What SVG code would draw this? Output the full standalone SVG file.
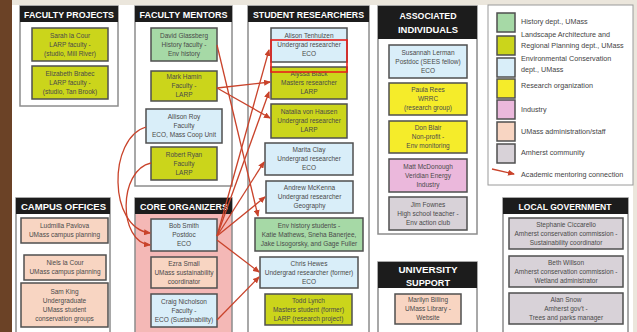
<svg xmlns="http://www.w3.org/2000/svg" width="637" height="332" viewBox="0 0 637 332">
<style>
.pn{fill:#ffffff;stroke:#8c8c8c;stroke-width:1.5}
.hd{fill:#1c1c1c}
.ht{fill:#ffffff;font-family:"Liberation Sans",Arial,sans-serif;font-size:9.5px;font-weight:bold;text-anchor:middle}
.bx{stroke:#4f4f4f;stroke-width:1.5}
.t{fill:#4a4a4a;font-family:"Liberation Sans",Arial,sans-serif;font-size:6.5px;text-anchor:middle}
.lt{fill:#444;font-family:"Liberation Sans",Arial,sans-serif;font-size:7.2px}
.his{fill:#a6d9a6}.lar{fill:#cbd51b}.env{fill:#d9eef9}.res{fill:#f5ec2a}.ind{fill:#ebb8dc}.adm{fill:#f8d5c2}.amh{fill:#d8d2d8}
.cn{fill:none;stroke:#c9432b;stroke-width:1.3;marker-end:url(#ah)}
</style>
<defs>
<marker id="ah" markerWidth="7" markerHeight="6" refX="6" refY="3" orient="auto" markerUnits="userSpaceOnUse"><path d="M0,0 L7,3 L0,6 z" fill="#c9432b"/></marker>
</defs>
<rect x="0" y="0" width="637" height="332" fill="#ffffff"/>
<rect x="0" y="0" width="637" height="5" fill="#ebe6dc"/>
<rect x="633" y="0" width="4" height="332" fill="#ebe6dc"/>
<rect x="0" y="0" width="12" height="332" fill="#6b4226"/>

<!-- Panels -->
<g id="panel-faculty-projects">
<rect class="pn" x="20" y="6" width="98" height="100"/>
<rect class="hd" x="20" y="6" width="98" height="16"/>
<text class="ht" x="69" y="18" textLength="90" lengthAdjust="spacingAndGlyphs">FACULTY PROJECTS</text>
</g>
<g id="panel-faculty-mentors">
<rect class="pn" x="135" y="6" width="97" height="180"/>
<rect class="hd" x="135" y="6" width="97" height="16"/>
<text class="ht" x="183.5" y="18" textLength="88" lengthAdjust="spacingAndGlyphs">FACULTY MENTORS</text>
</g>
<g id="panel-student-researchers">
<rect class="pn" x="248" y="6" width="121" height="330"/>
<rect class="hd" x="248" y="6" width="121" height="16"/>
<text class="ht" x="308.5" y="18" textLength="111" lengthAdjust="spacingAndGlyphs">STUDENT RESEARCHERS</text>
</g>
<g id="panel-associated">
<rect class="pn" x="378" y="6" width="99" height="228"/>
<rect class="hd" x="378" y="6" width="99" height="33"/>
<text class="ht" x="428" y="19" textLength="57" lengthAdjust="spacingAndGlyphs">ASSOCIATED</text>
<text class="ht" x="428" y="33" textLength="60" lengthAdjust="spacingAndGlyphs">INDIVIDUALS</text>
</g>
<g id="panel-university-support">
<rect class="pn" x="378" y="262" width="99" height="74"/>
<rect class="hd" x="378" y="262" width="99" height="26"/>
<text class="ht" x="428" y="273" textLength="59" lengthAdjust="spacingAndGlyphs">UNIVERSITY</text>
<text class="ht" x="428" y="286" textLength="44" lengthAdjust="spacingAndGlyphs">SUPPORT</text>
</g>
<g id="panel-campus-offices">
<rect class="pn" x="16" y="198" width="94" height="138"/>
<rect class="hd" x="16" y="198" width="94" height="16"/>
<text class="ht" x="63.5" y="210" textLength="85" lengthAdjust="spacingAndGlyphs">CAMPUS OFFICES</text>
</g>
<g id="panel-core-organizers">
<rect class="pn" x="135" y="198" width="97" height="138" style="fill:#f4b8b6"/>
<rect class="hd" x="135" y="198" width="97" height="16"/>
<text class="ht" x="184" y="210" textLength="88" lengthAdjust="spacingAndGlyphs">CORE ORGANIZERS</text>
</g>
<g id="panel-local-government">
<rect class="pn" x="503" y="198" width="125" height="138"/>
<rect class="hd" x="503" y="198" width="125" height="16"/>
<text class="ht" x="565" y="210" textLength="93" lengthAdjust="spacingAndGlyphs">LOCAL GOVERNMENT</text>
</g>

<!-- Faculty projects -->
<g id="sarah-la-cour"><rect class="bx lar" x="32" y="28" width="76" height="33"/>
<text class="t" x="70" y="37.8">Sarah la Cour</text><text class="t" x="70" y="46.8">LARP faculty -</text><text class="t" x="70" y="55.8">(studio, Mill River)</text></g>
<g id="elizabeth-brabec"><rect class="bx lar" x="32" y="66" width="76" height="33"/>
<text class="t" x="70" y="75.8">Elizabeth Brabec</text><text class="t" x="70" y="84.8">LARP faculty -</text><text class="t" x="70" y="93.8">(studio, Tan Brook)</text></g>

<!-- Faculty mentors -->
<g id="david-glassberg"><rect class="bx his" x="151" y="28" width="66" height="33"/>
<text class="t" x="184" y="37.8">David Glassberg</text><text class="t" x="184" y="46.8">History faculty -</text><text class="t" x="184" y="55.8">Env history</text></g>
<g id="mark-hamin"><rect class="bx lar" x="151" y="71" width="66" height="30"/>
<text class="t" x="184" y="79.3">Mark Hamin</text><text class="t" x="184" y="88.3">Faculty -</text><text class="t" x="184" y="97.3">LARP</text></g>
<g id="allison-roy"><rect class="bx env" x="146" y="109" width="76" height="34"/>
<text class="t" x="184" y="119.3">Allison Roy</text><text class="t" x="184" y="128.3">Faculty</text><text class="t" x="184" y="137.3">ECO, Mass Coop Unit</text></g>
<g id="robert-ryan"><rect class="bx lar" x="151" y="147" width="66" height="33"/>
<text class="t" x="184" y="156.8">Robert Ryan</text><text class="t" x="184" y="165.8">Faculty</text><text class="t" x="184" y="174.8">LARP</text></g>

<!-- Core organizers -->
<g id="bob-smith"><rect class="bx env" x="151" y="219" width="66" height="32"/>
<text class="t" x="184" y="228.3">Bob Smith</text><text class="t" x="184" y="237.3">Postdoc</text><text class="t" x="184" y="246.3">ECO</text></g>
<g id="ezra-small"><rect class="bx adm" x="151" y="257" width="66" height="31"/>
<text class="t" x="184" y="265.8">Ezra Small</text><text class="t" x="184" y="274.8">UMass sustainability</text><text class="t" x="184" y="283.8">coordinator</text></g>
<g id="craig-nicholson"><rect class="bx env" x="151" y="294" width="66" height="33"/>
<text class="t" x="184" y="303.8">Craig Nicholson</text><text class="t" x="184" y="312.8">Faculty -</text><text class="t" x="184" y="321.8">ECO (Sustainability)</text></g>

<!-- Student researchers -->
<g id="alison-tenhulzen"><rect class="bx env" x="271" y="28" width="76" height="34"/>
<text class="t" x="309" y="38.3">Alison Tenhulzen</text><text class="t" x="309" y="47.3">Undergrad researcher</text><text class="t" x="309" y="56.3">ECO</text></g>
<g id="alyssa-black"><rect class="bx lar" x="271" y="67" width="76" height="32"/>
<text class="t" x="309" y="76.3">Alyssa Black</text><text class="t" x="309" y="85.3">Masters researcher</text><text class="t" x="309" y="94.3">LARP</text></g>
<g id="highlight"><rect x="271" y="40" width="76" height="32" fill="none" stroke="#e8201c" stroke-width="1.6"/></g>
<g id="natalia-von-hausen"><rect class="bx lar" x="271" y="104" width="76" height="34"/>
<text class="t" x="309" y="114.3">Natalia von Hausen</text><text class="t" x="309" y="123.3">Undergrad researcher</text><text class="t" x="309" y="132.3">LARP</text></g>
<g id="marita-clay"><rect class="bx env" x="265" y="143" width="88" height="32"/>
<text class="t" x="309" y="152.3">Marita Clay</text><text class="t" x="309" y="161.3">Undergrad researcher</text><text class="t" x="309" y="170.3">ECO</text></g>
<g id="andrew-mckenna"><rect class="bx env" x="266" y="181" width="87" height="32"/>
<text class="t" x="309.5" y="190.3">Andrew McKenna</text><text class="t" x="309.5" y="199.3">Undergrad researcher</text><text class="t" x="309.5" y="208.3">Geography</text></g>
<g id="env-history-students"><rect class="bx his" x="255" y="218" width="108" height="33"/>
<text class="t" x="309" y="227.8">Env history students -</text><text class="t" x="309" y="236.8">Katie Mathews, Sneha Banerjee,</text><text class="t" x="309" y="245.8">Jake Lisogorsky, and Gage Fuller</text></g>
<g id="chris-hewes"><rect class="bx env" x="260" y="257" width="98" height="31"/>
<text class="t" x="309" y="265.8">Chris Hewes</text><text class="t" x="309" y="274.8">Undergrad researcher (former)</text><text class="t" x="309" y="283.8">ECO</text></g>
<g id="todd-lynch"><rect class="bx lar" x="265" y="294" width="87" height="31"/>
<text class="t" x="308.5" y="302.8">Todd Lynch</text><text class="t" x="308.5" y="311.8">Masters student (former)</text><text class="t" x="308.5" y="320.8">LARP (research project)</text></g>

<!-- Associated individuals -->
<g id="susannah-lerman"><rect class="bx env" x="389" y="45" width="78" height="33"/>
<text class="t" x="428" y="54.8">Susannah Lerman</text><text class="t" x="428" y="63.8">Postdoc (SEES fellow)</text><text class="t" x="428" y="72.8">ECO</text></g>
<g id="paula-rees"><rect class="bx res" x="389" y="83" width="78" height="32"/>
<text class="t" x="428" y="92.3">Paula Rees</text><text class="t" x="428" y="101.3">WRRC</text><text class="t" x="428" y="110.3">(research group)</text></g>
<g id="don-blair"><rect class="bx res" x="389" y="121" width="78" height="32"/>
<text class="t" x="428" y="130.3">Don Blair</text><text class="t" x="428" y="139.3">Non-profit -</text><text class="t" x="428" y="148.3">Env monitoring</text></g>
<g id="matt-mcdonough"><rect class="bx ind" x="389" y="159" width="78" height="33"/>
<text class="t" x="428" y="168.8">Matt McDonough</text><text class="t" x="428" y="177.8">Veridian Energy</text><text class="t" x="428" y="186.8">Industry</text></g>
<g id="jim-fownes"><rect class="bx amh" x="389" y="197" width="78" height="33"/>
<text class="t" x="428" y="206.8">Jim Fownes</text><text class="t" x="428" y="215.8">High school teacher -</text><text class="t" x="428" y="224.8">Env action club</text></g>

<!-- University support -->
<g id="marilyn-billing"><rect class="bx adm" x="395" y="294" width="66" height="30"/>
<text class="t" x="428" y="302.3">Marilyn Billing</text><text class="t" x="428" y="311.3">UMass Library -</text><text class="t" x="428" y="320.3">Website</text></g>

<!-- Campus offices -->
<g id="ludmilla-pavlova"><rect class="bx adm" x="21" y="218" width="87" height="25"/>
<text class="t" x="64.5" y="228.3">Ludmilla Pavlova</text><text class="t" x="64.5" y="237.3">UMass campus planning</text></g>
<g id="niels-la-cour"><rect class="bx adm" x="24" y="255" width="82" height="25"/>
<text class="t" x="65" y="265.3">Niels la Cour</text><text class="t" x="65" y="274.3">UMass campus planning</text></g>
<g id="sam-king"><rect class="bx adm" x="21" y="283" width="87" height="44"/>
<text class="t" x="64.5" y="293.8">Sam King</text><text class="t" x="64.5" y="302.8">Undergraduate</text><text class="t" x="64.5" y="311.8">UMass student</text><text class="t" x="64.5" y="320.8">conservation groups</text></g>

<!-- Local government -->
<g id="stephanie-ciccarello"><rect class="bx amh" x="509" y="218" width="114" height="31"/>
<text class="t" x="566" y="226.8">Stephanie Ciccarello</text><text class="t" x="566" y="235.8">Amherst conservation commission -</text><text class="t" x="566" y="244.8">Sustainability coordinator</text></g>
<g id="beth-willson"><rect class="bx amh" x="509" y="256" width="114" height="31"/>
<text class="t" x="566" y="264.8">Beth Willson</text><text class="t" x="566" y="273.8">Amherst conservation commission -</text><text class="t" x="566" y="282.8">Wetland administrator</text></g>
<g id="alan-snow"><rect class="bx amh" x="509" y="293" width="114" height="31"/>
<text class="t" x="566" y="301.8">Alan Snow</text><text class="t" x="566" y="310.8">Amherst gov't -</text><text class="t" x="566" y="319.8">Trees and parks manager</text></g>

<!-- Legend -->
<g id="legend">
<rect x="488" y="5" width="145" height="180" fill="#ffffff" stroke="#9a9a9a" stroke-width="1"/>
<rect class="bx his" x="497" y="13" width="18" height="19"/><text class="lt" x="521" y="24">History dept., UMass</text>
<rect class="bx lar" x="497" y="36" width="18" height="19"/><text class="lt" x="521" y="36.5">Landscape Architecture and</text><text class="lt" x="521" y="47.5">Regional Planning dept., UMass</text>
<rect class="bx env" x="497" y="58" width="18" height="19"/><text class="lt" x="521" y="60.5">Environmental Conservation</text><text class="lt" x="521" y="71.5">dept., UMass</text>
<rect class="bx res" x="497" y="79" width="18" height="19"/><text class="lt" x="521" y="87.5">Research organization</text>
<rect class="bx ind" x="497" y="100" width="18" height="19"/><text class="lt" x="521" y="111.5">Industry</text>
<rect class="bx adm" x="497" y="122" width="18" height="19"/><text class="lt" x="521" y="133.5">UMass administration/staff</text>
<rect class="bx amh" x="497" y="144" width="18" height="19"/><text class="lt" x="521" y="154.5">Amherst community</text>
<path class="cn" d="M492,169 L514,174"/><text class="lt" x="521" y="176.5">Academic mentoring connection</text>
</g>

<!-- Connectors -->
<g id="connectors">
<path class="cn" d="M217,45 L258,216"/>
<path class="cn" d="M217,88 L270,82"/>
<path class="cn" d="M217,88 L270,118"/>
<path class="cn" d="M217,236 L269,50"/>
<path class="cn" d="M217,236 L269,92"/>
<path class="cn" d="M217,236 L264,162"/>
<path class="cn" d="M217,236 L265,197"/>
<path class="cn" d="M217,240 L259,272"/>
<path class="cn" d="M217,320 L259,277"/>
<path class="cn" d="M146,127 C108,138 108,228 150,233"/>
<path class="cn" d="M151,163 C118,170 118,242 150,245"/>
</g>
</svg>
